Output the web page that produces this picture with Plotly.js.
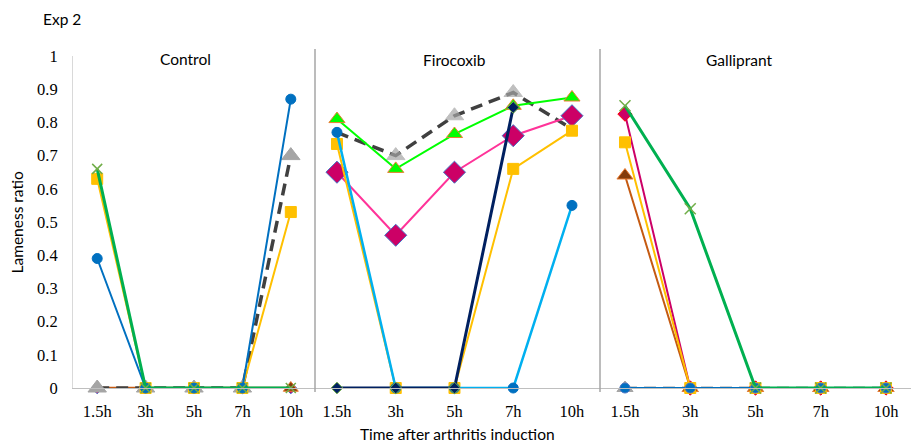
<!DOCTYPE html>
<html>
<head>
<meta charset="utf-8">
<script src="https://cdn.plot.ly/plotly-3.0.1.min.js"></script>
<style>html,body{margin:0;padding:0;background:#fff}#chart{width:911px;height:444px}</style>
</head>
<body>
<div id="chart"></div>
<script>
// ---- data ----
var times = ['1.5h', '3h', '5h', '7h', '10h'];
var yTicks = [0, 0.1, 0.2, 0.3, 0.4, 0.5, 0.6, 0.7, 0.8, 0.9, 1];

// Control
var ctrlMagenta = [0, 0, 0, 0, 0];
var ctrlBrown   = [0, 0, 0, 0, 0];
var ctrlGray    = [0, 0, 0, 0, 0.70];
var ctrlYellow  = [0.63, 0, 0, 0, 0.53];
var ctrlBlue    = [0.39, 0, 0, 0, 0.87];
var ctrlGreen   = [0.66, 0, 0, 0, 0];

// Firocoxib
var firGray      = [0.77, 0.70, 0.82, 0.89, 0.78];
var firGreen     = [0.81, 0.66, 0.765, 0.85, 0.875];
var firPink      = [0.65, 0.46, 0.65, 0.76, 0.82];
var firYellow    = [0.735, 0, 0, 0.66, 0.775];
var firLightBlue = [0.77, 0, 0, 0, 0.55];
var firNavy      = [0, 0, 0, 0.845, null];

// Galliprant
var galGray    = [0, 0, 0, 0, 0];
var galBrown   = [0.64, 0, 0, 0, 0];
var galMagenta = [0.825, 0, 0, 0, 0];
var galYellow  = [0.74, 0, 0, 0, 0];
var galBlue    = [0, 0, 0, 0, 0];
var galGreen   = [0.85, 0.54, 0, 0, 0];

// ---- styles ----
var xs = times.map(function (t, i) { return i; });
function tr(ax, vals, lineColor, lineWidth, dash, sym, size, fill, bColor, bWidth) {
  return {
    type: 'scatter', mode: 'lines+markers', xaxis: ax, yaxis: 'y',
    x: xs, y: vals, connectgaps: false, cliponaxis: false, hoverinfo: 'none',
    line: {color: lineColor, width: lineWidth, dash: dash || 'solid'},
    marker: {symbol: sym, size: size, color: fill, line: {color: bColor, width: bWidth}}
  };
}
var triGrayFir = [0, 16, 16, 16, 0];
var dashStyle = '12px,7px';

var data = [
  // Control
  tr('x', ctrlMagenta, '#FF3399', 2, null, 'diamond', 9, '#CC0066', '#4472C4', 1),
  tr('x', ctrlBrown, '#C55A11', 2.5, null, 'triangle-up', 13, '#843C0C', '#ED7D31', 1),
  tr('x', ctrlGray, '#404040', 3.5, dashStyle, 'triangle-up', 16, '#A5A5A5', '#A5A5A5', 1),
  tr('x', ctrlYellow, '#FFC000', 2, null, 'square', 11, '#FFC000', '#FFC000', 1),
  tr('x', ctrlBlue, '#0070C0', 2, null, 'circle', 10, '#0070C0', '#0070C0', 1),
  tr('x', ctrlGreen, '#00B050', 3, null, 'x-thin', 10, '#70AD47', '#70AD47', 1.5),
  // Firocoxib
  tr('x2', firGray, '#404040', 3.5, dashStyle, 'triangle-up', triGrayFir, '#A5A5A5', '#A5A5A5', 1),
  tr('x2', firGreen, '#00FF00', 2, null, 'triangle-up', 14, '#00FF00', '#ED7D31', 1),
  tr('x2', firPink, '#FF3399', 2, null, 'diamond', 17, '#CC0066', '#4472C4', 1),
  tr('x2', firYellow, '#FFC000', 2, null, 'square', 11, '#FFC000', '#FFC000', 1),
  tr('x2', firLightBlue, '#00B0F0', 2.5, null, 'circle', 10, '#0070C0', '#0070C0', 1),
  tr('x2', firNavy, '#002060', 3, null, 'diamond', 9, '#002060', '#70AD47', 1),
  // Galliprant
  tr('x3', galGray, '#404040', 2.5, dashStyle, 'triangle-up', 14, '#A5A5A5', '#A5A5A5', 1),
  tr('x3', galBrown, '#C55A11', 2, null, 'triangle-up', 14, '#843C0C', '#ED7D31', 1),
  tr('x3', galMagenta, '#CC0066', 2, null, 'diamond', 11, '#CC0066', '#FF0000', 1),
  tr('x3', galYellow, '#FFC000', 2, null, 'square', 11, '#FFC000', '#FFC000', 1),
  tr('x3', galBlue, '#0070C0', 2, null, 'circle', 10, '#0070C0', '#4472C4', 1),
  tr('x3', galGreen, '#00B050', 3, null, 'x-thin', 11, '#70AD47', '#70AD47', 1.5)
];

var serif = {family: 'Liberation Serif, Times New Roman, serif', size: 16.5, color: '#000'};
var sans = {family: 'Lato, Liberation Sans, sans-serif', size: 15.5, color: '#000'};

function xax(domain, range) {
  return {
    domain: domain, range: range, anchor: 'y', type: 'linear',
    tickvals: xs, ticktext: times, tickfont: serif,
    showgrid: false, zeroline: false, showline: true, linecolor: '#BFBFBF', linewidth: 1,
    ticks: 'outside', ticklen: 8, tickcolor: 'rgba(0,0,0,0)', fixedrange: true
  };
}
var pw = 838, pl = 73;
function px(p) { return (p - pl) / pw; }
function py(p) { return (388 - p) / 333; }

var layout = {
  width: 911, height: 444,
  margin: {l: 73, r: 0, t: 56, b: 56},
  paper_bgcolor: '#fff', plot_bgcolor: '#fff',
  showlegend: false,
  xaxis: xax([0, px(315)], [-0.5, 4.5]),
  xaxis2: xax([px(315), px(600)], [-0.374, 4.477]),
  xaxis3: xax([px(600), 1], [-0.383, 4.383]),
  yaxis: {
    range: [0, 1], tickvals: yTicks, tickfont: serif,
    showgrid: false, zeroline: false, showline: true, linecolor: '#D9D9D9', linewidth: 1,
    ticks: 'outside', ticklen: 11, tickcolor: 'rgba(0,0,0,0)', fixedrange: true
  },
  shapes: [
    {type: 'line', xref: 'paper', yref: 'paper', x0: px(315), x1: px(315), y0: py(392), y1: py(48), line: {color: '#A6A6A6', width: 1.5}},
    {type: 'line', xref: 'paper', yref: 'paper', x0: px(600), x1: px(600), y0: py(392), y1: py(48), line: {color: '#A6A6A6', width: 1.5}}
  ],
  annotations: [
    {text: 'Exp 2', xref: 'paper', yref: 'paper', x: px(62), y: py(18), showarrow: false, font: sans, xanchor: 'center', yanchor: 'middle'},
    {text: 'Control', xref: 'paper', yref: 'paper', x: px(185), y: py(58), showarrow: false, font: sans, xanchor: 'center', yanchor: 'middle'},
    {text: 'Firocoxib', xref: 'paper', yref: 'paper', x: px(454), y: py(59), showarrow: false, font: sans, xanchor: 'center', yanchor: 'middle'},
    {text: 'Galliprant', xref: 'paper', yref: 'paper', x: px(739), y: py(59), showarrow: false, font: sans, xanchor: 'center', yanchor: 'middle'},
    {text: 'Time after arthritis induction', xref: 'paper', yref: 'paper', x: px(457), y: py(434), showarrow: false, font: sans, xanchor: 'center', yanchor: 'middle'},
    {text: 'Lameness ratio', xref: 'paper', yref: 'paper', x: px(17), y: py(222), showarrow: false, font: sans, textangle: -90, xanchor: 'center', yanchor: 'middle'}
  ]
};

Plotly.newPlot('chart', data, layout, {displayModeBar: false, staticPlot: true});
</script>
</body>
</html>
